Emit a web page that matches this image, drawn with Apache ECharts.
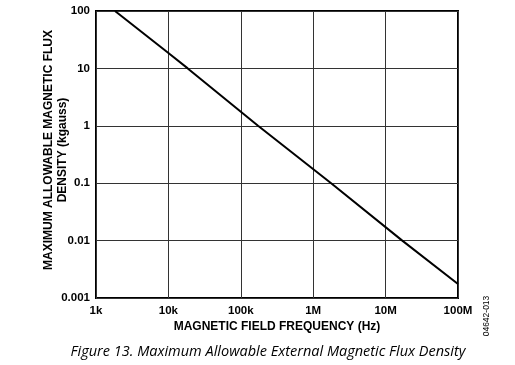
<!DOCTYPE html>
<html><head><meta charset="utf-8">
<script src="https://cdn.jsdelivr.net/npm/echarts@6/dist/echarts.min.js"></script>
<style>html,body{margin:0;padding:0;background:#fff}#c{width:515px;height:365px}</style>
</head><body><div id="c"></div>
<script>
var freqHz = [1830, 10000, 18500, 173000, 1770000, 17000000, 100000000];
var fluxKgauss = [100, 18.5, 10, 1, 0.1, 0.01, 0.00175];
var xTickValues = [1e3, 1e4, 1e5, 1e6, 1e7, 1e8];
var xTickLabels = ['1k', '10k', '100k', '1M', '10M', '100M'];
var yTickValues = [0.001, 0.01, 0.1, 1, 10, 100];
var yTickLabels = ['0.001', '0.01', '0.1', '1', '10', '100'];

function lab(vals, labs) {
  return function (v) {
    for (var i = 0; i < vals.length; i++) {
      if (Math.abs(Math.log10(v) - Math.log10(vals[i])) < 1e-6) return labs[i];
    }
    return '';
  };
}
var chart = echarts.init(document.getElementById('c'), null, {renderer: 'canvas'});
var font = '"Liberation Sans", Arial, sans-serif';
chart.setOption({
  animation: false,
  grid: {left: 96, right: 57, top: 11, bottom: 67, show: true, borderColor: '#000', borderWidth: 2, backgroundColor: 'transparent'},
  xAxis: {
    type: 'log', logBase: 10, min: 1e3, max: 1e8,
    axisLine: {show: false}, axisTick: {show: false},
    splitLine: {show: true, lineStyle: {color: '#333', width: 1}},
    axisLabel: {formatter: lab(xTickValues, xTickLabels), color: '#000', fontWeight: 'bold', fontSize: 11.5, fontFamily: font, margin: 7}
  },
  yAxis: {
    type: 'log', logBase: 10, min: 0.001, max: 100,
    axisLine: {show: false}, axisTick: {show: false},
    splitLine: {show: true, lineStyle: {color: '#333', width: 1}},
    axisLabel: {formatter: lab(yTickValues, yTickLabels), color: '#000', fontWeight: 'bold', fontSize: 11.5, fontFamily: font, margin: 6}
  },
  series: [{
    type: 'line', showSymbol: false, symbol: 'none',
    data: freqHz.map(function (f, i) { return [f, fluxKgauss[i]]; }),
    lineStyle: {color: '#000', width: 2}
  }],
  graphic: [
    {type: 'text', x: 49, y: 150, rotation: Math.PI / 2,
      style: {text: 'MAXIMUM ALLOWABLE MAGNETIC FLUX', font: 'bold 12px ' + font, fill: '#000', textAlign: 'center', textVerticalAlign: 'middle'}},
    {type: 'text', x: 63, y: 150, rotation: Math.PI / 2,
      style: {text: 'DENSITY (kgauss)', font: 'bold 12px ' + font, fill: '#000', textAlign: 'center', textVerticalAlign: 'middle'}},
    {type: 'text', x: 277, y: 327,
      style: {text: 'MAGNETIC FIELD FREQUENCY (Hz)', font: 'bold 12px ' + font, fill: '#000', textAlign: 'center', textVerticalAlign: 'middle'}},
    {type: 'text', x: 268, y: 352,
      style: {text: 'Figure 13. Maximum Allowable External Magnetic Flux Density', font: 'italic 14.5px "Open Sans", "Noto Sans", sans-serif', fill: '#000', textAlign: 'center', textVerticalAlign: 'middle'}},
    {type: 'text', x: 487, y: 316, rotation: Math.PI / 2,
      style: {text: '04642-013', font: '8.5px ' + font, fill: '#000', textAlign: 'center', textVerticalAlign: 'middle'}}
  ]
});
</script></body></html>
